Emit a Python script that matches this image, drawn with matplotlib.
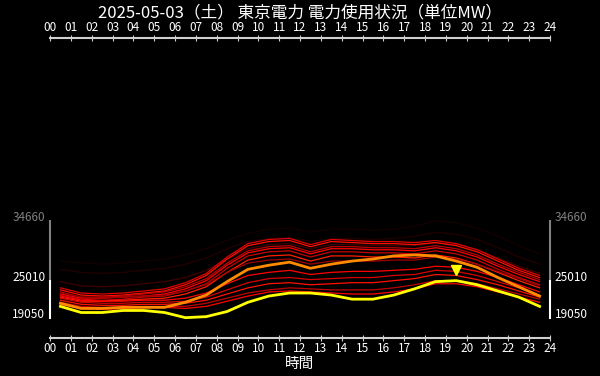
import matplotlib
matplotlib.use("Agg")
import matplotlib.pyplot as plt
import matplotlib.transforms as mtransforms

plt.rcParams['font.family'] = ['Noto Sans CJK JP', 'DejaVu Sans']

title = "2025-05-03（土） 東京電力 電力使用状況（単位MW）"
hours = [h + 0.5 for h in range(24)]
hour_labels = ["%02d" % h for h in range(25)]

# today (yellow)
today = [20870, 19880, 19880, 20210, 20210, 19880, 19050, 19220, 20040, 21530, 22530, 23020,
         23020, 22690, 22030, 22030, 22690, 23690, 24850, 25010, 24350, 23350, 22360, 20870]
# comparison day (orange)
compare = [21370, 20540, 20540, 20710, 20710, 20710, 21530, 22690, 24850, 26830, 27490, 27990,
           27000, 27660, 28160, 28490, 28990, 29150, 28990, 28160, 27160, 25510, 24020, 22530]

# past days (red), oldest first
past = [
    [28160, 27830, 27660, 27830, 28160, 28490, 29150, 30150, 31470, 32630, 33290, 33460,
     32800, 33290, 33290, 33120, 33290, 33790, 34660, 34330, 33460, 32130, 30640, 29320],
    [26830, 26340, 26170, 26340, 26670, 27000, 27660, 28660, 30150, 31300, 31800, 31970,
     31300, 31800, 31800, 31640, 31800, 32130, 32800, 32460, 31640, 30310, 28820, 27660],
    [24850, 24180, 24020, 24180, 24510, 24850, 25510, 26670, 28490, 30150, 30810, 30970,
     30150, 30810, 30810, 30640, 30640, 30640, 31140, 30810, 29980, 28660, 27330, 26170],
    [23850, 23020, 22860, 23020, 23350, 23690, 24680, 26170, 28820, 30970, 31640, 31800,
     30810, 31640, 31470, 31300, 31300, 31140, 31470, 30970, 29980, 28490, 27000, 25840],
    [23520, 22690, 22530, 22690, 23020, 23350, 24350, 25840, 28490, 30640, 31300, 31470,
     30480, 31300, 31140, 30970, 30970, 30810, 31140, 30640, 29650, 28160, 26670, 25510],
    [23190, 22360, 22360, 22530, 22860, 23190, 24020, 25340, 27830, 29810, 30480, 30640,
     29650, 30480, 30480, 30310, 30310, 30150, 30640, 30150, 29150, 27660, 26340, 25180],
    [22860, 22190, 22190, 22360, 22530, 22860, 23690, 25010, 27500, 29480, 30150, 30310,
     29320, 30150, 30150, 29980, 29980, 29810, 30310, 29810, 28820, 27330, 26000, 24850],
    [22690, 22030, 21860, 22030, 22360, 22530, 23350, 24510, 27000, 28990, 29650, 29810,
     28820, 29650, 29650, 29480, 29480, 29320, 29810, 29320, 28320, 26840, 25510, 24350],
    [22360, 21700, 21700, 21860, 22030, 22190, 22860, 24020, 26340, 28320, 28990, 29150,
     28160, 28990, 28990, 28820, 28820, 28660, 29150, 28660, 27660, 26340, 25010, 23850],
    [23020, 22360, 22190, 22360, 22530, 22690, 23350, 24350, 26340, 27830, 28320, 28490,
     27660, 28160, 28160, 28160, 28320, 28320, 28820, 28490, 27660, 26500, 25340, 24180],
    [22530, 21860, 21700, 21700, 21860, 21860, 22190, 23020, 24510, 25840, 26340, 26670,
     26000, 26340, 26500, 26500, 26670, 26840, 27330, 27160, 26500, 25510, 24350, 23190],
    [22190, 21530, 21370, 21370, 21530, 21530, 21700, 22360, 23520, 24680, 25340, 25510,
     25180, 25340, 25510, 25510, 25840, 26000, 26670, 26500, 25840, 24850, 23850, 22690],
    [21860, 21200, 21040, 21040, 21200, 21200, 21370, 21860, 22860, 23850, 24510, 24680,
     24350, 24510, 24680, 24680, 25010, 25340, 26000, 25840, 25180, 24350, 23350, 22360],
    [21530, 20870, 20710, 20710, 20870, 20870, 20870, 21370, 22190, 23020, 23520, 23850,
     23690, 23520, 23520, 23520, 23850, 24350, 25010, 25010, 24510, 23690, 22860, 22030],
    [21200, 20540, 20380, 20540, 20710, 20710, 20540, 20870, 21700, 22530, 23190, 23350,
     23190, 23020, 22860, 22860, 23190, 23690, 24510, 24510, 24020, 23190, 22360, 21530],
]
past_colors = ['#140000', '#220000', '#400000', '#e00000', '#ff1000', '#b80000', '#ff0000',
               '#c80000', '#ff2000', '#a00000', '#ff0000', '#d80000', '#ff1000', '#c00000',
               '#ff0000']

y_ticks = [19050, 25010, 34660]

fig = plt.figure(figsize=(6, 3.76), dpi=100, facecolor='black')
ax = fig.add_axes([50 / 600, 1 - 338 / 376, 500 / 600, 300 / 376], facecolor='black')

for vals, c in zip(past, past_colors):
    ax.plot(hours, vals, color=c, lw=0.9)
ax.plot(hours, compare, color='#ff8c00', lw=2.0)
ax.plot(hours, today, color='#ffff00', lw=2.0)

# marker above today's peak
peak = max(today)
peak_h = hours[today.index(peak)]
off = mtransforms.offset_copy(ax.transData, fig=fig, x=0, y=8, units='points')
ax.plot([peak_h], [peak], marker='v', color='#ffff00', ms=7, transform=off, ls='none')

ax.set_xlim(0, 24)
ax.set_ylim(15780, 64060)
ax.set_xticks(range(25))
ax.set_xticklabels(hour_labels)
ax.set_yticks(y_ticks)
ax.set_yticklabels([str(v) for v in y_ticks])

for s in ['left', 'right']:
    ax.spines[s].set_visible(False)
for s in ['top', 'bottom']:
    ax.spines[s].set_color('#d0d0d0')
    ax.spines[s].set_linewidth(1.5)

ax.tick_params(axis='x', top=True, labeltop=True, direction='inout', length=4,
               color='#d0d0d0', labelcolor='white', labelsize=8.5, pad=1)
ax.tick_params(axis='y', left=True, right=True, labelleft=True, labelright=True,
               direction='inout', length=3, width=1, labelsize=8.5, pad=2)
for t, v in zip(ax.yaxis.get_major_ticks(), y_ticks):
    c = '#808080' if v == max(y_ticks) else 'white'
    t.label1.set_color(c)
    t.label2.set_color(c)
    t.label1.set_verticalalignment('baseline')
    t.label2.set_verticalalignment('baseline')
    t.tick1line.set_color(c)
    t.tick2line.set_color(c)

# y "spines" only over the data range
yt = ax.get_yaxis_transform()
for xa in [0, 1]:
    ax.plot([xa, xa], [y_ticks[1], y_ticks[2]], color='#808080', lw=1.5, transform=yt, clip_on=False)
    ax.plot([xa, xa], [y_ticks[0], y_ticks[1]], color='white', lw=1.5, transform=yt, clip_on=False)

fig.text(0.5, 1 - 12.5 / 376, title, color='white', fontsize=12, ha='center', va='center')
ax.set_xlabel('時間', color='white', fontsize=10.5, labelpad=1)

fig.savefig('out.png', facecolor='black')
